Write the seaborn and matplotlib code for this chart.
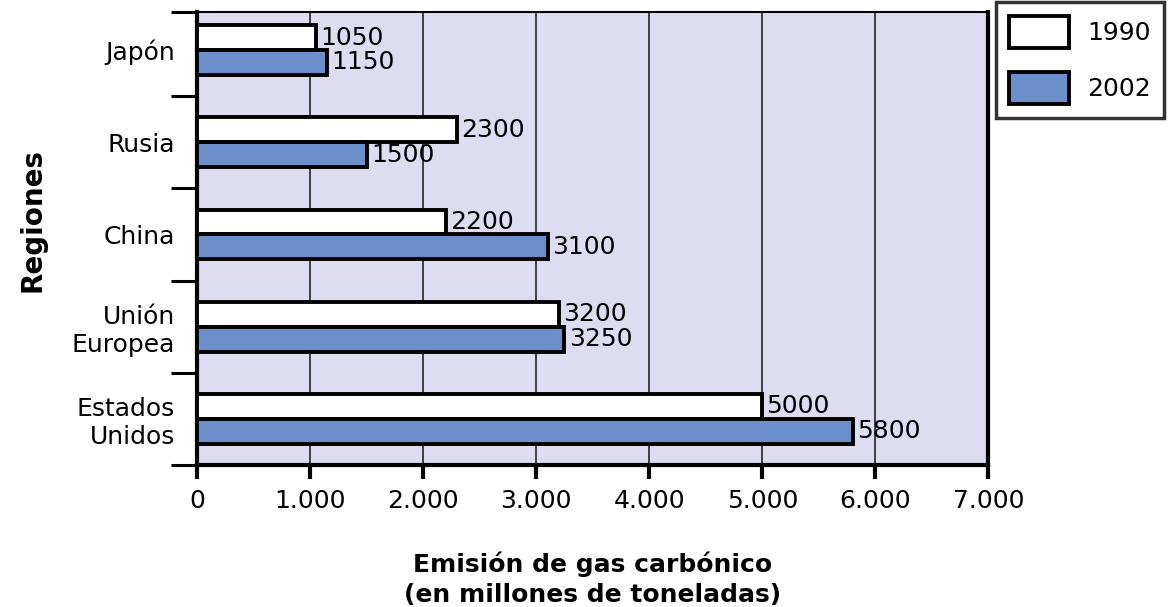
import matplotlib
matplotlib.use("Agg")
import matplotlib.pyplot as plt
import seaborn as sns
import pandas as pd

regions = ["Japón", "Rusia", "China", "Unión\nEuropea", "Estados\nUnidos"]
years = ["1990", "2002"]
values_1990 = [1050, 2300, 2200, 3200, 5000]
values_2002 = [1150, 1500, 3100, 3250, 5800]
xticks = [0, 1000, 2000, 3000, 4000, 5000, 6000, 7000]
xticklabels = ["0", "1.000", "2.000", "3.000", "4.000", "5.000", "6.000", "7.000"]

df = pd.DataFrame({
    "Región": regions * 2,
    "Año": [years[0]] * len(regions) + [years[1]] * len(regions),
    "Valor": values_1990 + values_2002,
})

sns.set_theme(style="white")
plt.rcParams["font.family"] = ["DejaVu Sans"]
plt.rcParams["text.color"] = "black"
plt.rcParams["xtick.color"] = "black"
plt.rcParams["ytick.color"] = "black"
plt.rcParams["axes.labelcolor"] = "black"

fig = plt.figure(figsize=(11.68, 6.07), dpi=100)
ax = fig.add_axes([0.1687, 0.234, 0.6776, 0.980 - 0.234])
ax.set_facecolor("#dedcf0")

sns.barplot(data=df, y="Región", x="Valor", hue="Año", orient="h",
            palette={"1990": "white", "2002": "#6a8fcb"},
            width=0.54, edgecolor="black", linewidth=2.8, saturation=1,
            ax=ax, legend=True, zorder=3)

for c in ax.containers:
    ax.bar_label(c, labels=[f"{int(v)}" for v in c.datavalues],
                 padding=3, fontsize=18, color="black")

ax.set_xlim(0, 7000)
ax.set_ylim(4.5, -0.41)
ax.set_xticks(xticks)
ax.set_xticklabels(xticklabels, fontsize=18)
ax.xaxis.grid(True, color="#333333", linewidth=1.3, zorder=1)
ax.set_axisbelow(True)

ax.tick_params(axis="x", direction="out", length=10, width=3, color="black", pad=7, bottom=True)
ax.tick_params(axis="y", which="major", length=0, pad=16, labelsize=18)
ax.set_yticks([-0.41, 0.5, 1.5, 2.5, 3.5, 4.5], minor=True)
ax.tick_params(axis="y", which="minor", direction="out", length=19, width=2.2, color="black", left=True)
for lab in ax.get_yticklabels():
    lab.set_multialignment("right")

for side in ["left", "bottom", "right"]:
    ax.spines[side].set_linewidth(3)
    ax.spines[side].set_color("black")
ax.spines["top"].set_linewidth(1.5)
ax.spines["top"].set_color("black")

ax.set_ylabel("Regiones", fontsize=20, fontweight="bold")
ax.yaxis.set_label_coords(-0.19, 0.54)
ax.set_xlabel("Emisión de gas carbónico\n(en millones de toneladas)",
              fontsize=18, fontweight="bold", labelpad=28, linespacing=1.3)

handles, labels = ax.get_legend_handles_labels()
ax.get_legend().remove()
leg = fig.legend(handles, labels, loc="upper right", bbox_to_anchor=(0.997, 0.996),
                 fontsize=18, frameon=True, fancybox=False, edgecolor="black",
                 handlelength=2.4, handleheight=1.6, borderpad=0.55,
                 labelspacing=0.95, handletextpad=0.7, borderaxespad=0)
leg.get_frame().set_linewidth(2.5)

fig.savefig("out.png", dpi=100)
